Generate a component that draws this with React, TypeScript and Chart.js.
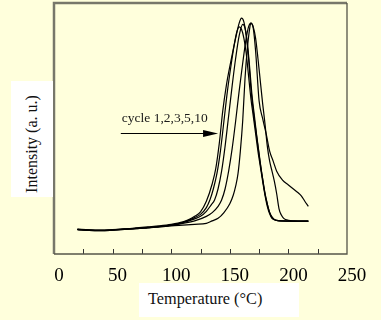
import React, { useEffect, useRef } from "react";
import { Chart, registerables } from "chart.js";

Chart.register(...registerables);

// ---- data (temperature °C, intensity a.u. normalised 0..1) ----
const cycle10T = [20, 30, 40, 50, 60, 70, 80, 90, 100, 110, 115, 120, 125, 130, 135, 138, 141, 144, 147, 151, 155, 158, 160, 162, 164, 166, 168, 170, 172, 174, 176, 178, 180, 182, 184, 186, 189, 195, 217];
const cycle10I = [0.099, 0.096, 0.095, 0.097, 0.1, 0.104, 0.108, 0.112, 0.118, 0.128, 0.137, 0.15, 0.168, 0.21, 0.28, 0.34, 0.44, 0.57, 0.67, 0.77, 0.86, 0.92, 0.94, 0.925, 0.87, 0.78, 0.66, 0.57, 0.5, 0.43, 0.36, 0.3, 0.24, 0.2, 0.165, 0.145, 0.135, 0.132, 0.131];

const cycle5T = [20, 30, 40, 50, 60, 70, 80, 90, 100, 110, 120, 125, 130, 133, 136, 139, 142, 145, 148, 151, 154, 156, 158, 160, 162, 164, 166, 168, 170, 172, 174, 176, 178, 180, 182, 184, 186, 190, 200, 217];
const cycle5I = [0.097, 0.094, 0.093, 0.095, 0.098, 0.101, 0.105, 0.109, 0.115, 0.126, 0.145, 0.158, 0.185, 0.215, 0.26, 0.32, 0.41, 0.53, 0.65, 0.75, 0.84, 0.885, 0.905, 0.895, 0.86, 0.8, 0.71, 0.62, 0.55, 0.48, 0.41, 0.35, 0.29, 0.235, 0.19, 0.16, 0.142, 0.134, 0.131, 0.13];

const cycle3T = [20, 30, 40, 50, 60, 70, 80, 90, 100, 110, 120, 125, 130, 134, 137, 140, 143, 146, 149, 152, 155, 158, 161, 163, 165, 167, 169, 171, 173, 175, 177, 179, 181, 183, 185, 188, 192, 217];
const cycle3I = [0.098, 0.095, 0.094, 0.096, 0.099, 0.102, 0.106, 0.11, 0.115, 0.125, 0.14, 0.15, 0.17, 0.195, 0.215, 0.26, 0.33, 0.43, 0.55, 0.67, 0.78, 0.87, 0.915, 0.9, 0.84, 0.74, 0.63, 0.55, 0.47, 0.4, 0.33, 0.27, 0.22, 0.18, 0.155, 0.138, 0.132, 0.131];

const cycle2T = [20, 30, 40, 50, 60, 70, 80, 90, 100, 110, 120, 130, 135, 140, 143, 146, 149, 152, 155, 158, 161, 164, 166, 168, 170, 172, 174, 176, 178, 180, 182, 184, 186, 188, 190, 192, 194, 196, 200, 205, 217];
const cycle2I = [0.097, 0.095, 0.094, 0.096, 0.099, 0.102, 0.105, 0.109, 0.114, 0.122, 0.132, 0.15, 0.165, 0.19, 0.215, 0.26, 0.33, 0.42, 0.53, 0.65, 0.76, 0.86, 0.905, 0.92, 0.905, 0.86, 0.78, 0.69, 0.6, 0.52, 0.43, 0.37, 0.33, 0.29, 0.24, 0.18, 0.155, 0.142, 0.134, 0.132, 0.131];

const cycle1T = [20, 30, 40, 50, 60, 70, 80, 90, 100, 110, 120, 130, 135, 140, 145, 150, 153, 155, 157, 159, 161, 163, 165, 167, 168, 170, 172, 175, 178, 181, 184, 187, 190, 195, 200, 204, 208, 211, 214, 217];
const cycle1I = [0.098, 0.094, 0.093, 0.095, 0.098, 0.101, 0.104, 0.108, 0.112, 0.115, 0.118, 0.122, 0.132, 0.142, 0.165, 0.2, 0.235, 0.27, 0.32, 0.41, 0.53, 0.7, 0.82, 0.9, 0.92, 0.9, 0.81, 0.61, 0.54, 0.48, 0.41, 0.37, 0.33, 0.294, 0.275, 0.26, 0.245, 0.232, 0.21, 0.19];

const seriesNames = ["cycle 1", "cycle 2", "cycle 3", "cycle 5", "cycle 10"];
const xTickValues = [0, 50, 100, 150, 200, 250];
const minorTickValues = [25, 50, 75, 100, 125, 150, 175, 200, 225];
const annotationText = "cycle 1,2,3,5,10";
const arrowFromT = 57;
const arrowToT = 140;
const arrowLevel = 0.481;
const xTitle = "Temperature (°C)";
const yTitle = "Intensity (a. u.)";

const serif = "'Liberation Serif', 'Times New Roman', serif";

function toPoints(t: number[], v: number[]) {
  return t.map((x, i) => ({ x, y: v[i] }));
}

const framePlugin = {
  id: "frameAndArrow",
  afterDatasetsDraw(chart: any) {
    const { ctx, chartArea, scales } = chart;
    const xs = scales.x;
    const ys = scales.y;
    ctx.save();
    // inward ticks on bottom axis
    ctx.strokeStyle = "#333";
    ctx.lineWidth = 1;
    minorTickValues.forEach((v) => {
      const px = Math.round(xs.getPixelForValue(v)) + 0.5;
      ctx.beginPath();
      ctx.moveTo(px, chartArea.bottom);
      ctx.lineTo(px, chartArea.bottom - 5);
      ctx.stroke();
    });
    // frame
    ctx.strokeStyle = "#77776a";
    ctx.lineWidth = 2.5;
    ctx.beginPath();
    ctx.moveTo(chartArea.left, chartArea.bottom);
    ctx.lineTo(chartArea.left, chartArea.top);
    ctx.lineTo(chartArea.right, chartArea.top);
    ctx.stroke();
    ctx.strokeStyle = "#555548";
    ctx.lineWidth = 1.3;
    ctx.beginPath();
    ctx.moveTo(chartArea.right, chartArea.top);
    ctx.lineTo(chartArea.right, chartArea.bottom);
    ctx.lineTo(chartArea.left, chartArea.bottom);
    ctx.stroke();
    // annotation arrow
    const x0 = xs.getPixelForValue(arrowFromT);
    const x1 = xs.getPixelForValue(arrowToT);
    const y = Math.round(ys.getPixelForValue(arrowLevel)) + 0.5;
    ctx.strokeStyle = "#000";
    ctx.lineWidth = 1;
    ctx.beginPath();
    ctx.moveTo(x0, y);
    ctx.lineTo(x1 - 10, y);
    ctx.stroke();
    ctx.fillStyle = "#000";
    ctx.beginPath();
    ctx.moveTo(x1, y);
    ctx.lineTo(x1 - 15, y - 3.5);
    ctx.lineTo(x1 - 15, y + 3.5);
    ctx.closePath();
    ctx.fill();
    ctx.font = `13.5px ${serif}`;
    ctx.fillStyle = "#1a1a1a";
    ctx.textBaseline = "alphabetic";
    ctx.fillText(annotationText, x0 + 1, y - 12);
    ctx.restore();
  },
};

export default function App() {
  const canvasRef = useRef<HTMLCanvasElement | null>(null);

  useEffect(() => {
    document.body.style.margin = "0";
    const canvas = canvasRef.current;
    if (!canvas) return;
    const tList = [cycle1T, cycle2T, cycle3T, cycle5T, cycle10T];
    const iList = [cycle1I, cycle2I, cycle3I, cycle5I, cycle10I];
    const chart = new Chart(canvas, {
      type: "line",
      data: {
        datasets: seriesNames.map((name, k) => ({
          label: name,
          data: toPoints(tList[k], iList[k]),
          borderColor: "#000",
          borderWidth: 1.2,
          pointRadius: 0,
          fill: false,
          cubicInterpolationMode: "monotone" as const,
        })),
      },
      options: {
        animation: false,
        responsive: false,
        layout: { padding: { left: 54, right: 34, top: 3, bottom: 0 } },
        plugins: { legend: { display: false }, tooltip: { enabled: false } },
        scales: {
          x: {
            type: "linear",
            min: 0,
            max: 250,
            afterFit: (s: any) => {
              s.height = 66;
            },
            afterBuildTicks: (s: any) => {
              s.ticks = xTickValues.map((v) => ({ value: v }));
            },
            grid: { display: false, drawTicks: false },
            border: { display: false },
            ticks: {
              color: "#000",
              padding: 11,
              labelOffset: 5,
              maxRotation: 0,
              font: { family: serif, size: 19 },
            },
          },
          y: {
            type: "linear",
            min: 0,
            max: 1,
            display: false,
          },
        },
      },
      plugins: [framePlugin],
    } as any);
    return () => chart.destroy();
  }, []);

  return (
    <div style={{ position: "relative", width: 381, height: 320, background: "#ffffdc", overflow: "hidden" }}>
      <canvas ref={canvasRef} width={381} height={320} style={{ position: "absolute", left: 0, top: 0 }} />
      <div style={{ position: "absolute", left: 11, top: 81, width: 42, height: 116, background: "#fff" }} />
      <div
        style={{
          position: "absolute",
          left: 32,
          top: 144,
          transform: "translate(-50%, -50%) rotate(-90deg)",
          whiteSpace: "nowrap",
          fontFamily: serif,
          fontSize: 16,
          color: "#111",
          lineHeight: "18px",
        }}
      >
        {yTitle}
      </div>
      <div
        style={{
          position: "absolute",
          left: 139,
          top: 283,
          width: 160,
          height: 34,
          background: "#fff",
          boxSizing: "border-box",
          paddingLeft: 9,
          paddingTop: 7,
          fontFamily: serif,
          fontSize: 16.3,
          color: "#111",
          whiteSpace: "nowrap",
          lineHeight: "18px",
        }}
      >
        {xTitle}
      </div>
    </div>
  );
}
